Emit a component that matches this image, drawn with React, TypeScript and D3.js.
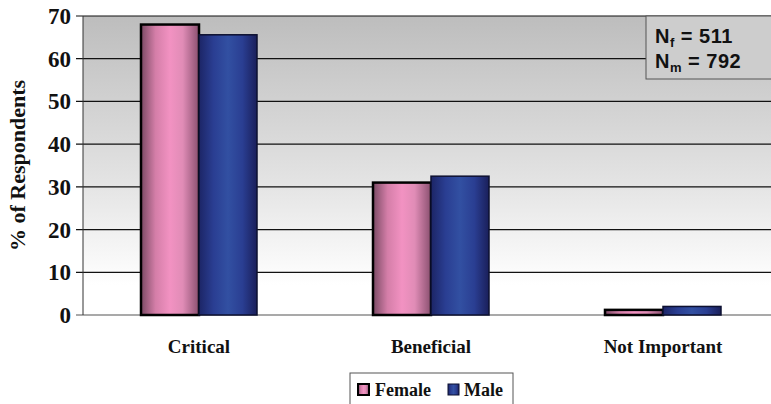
import React from "react";
import * as d3 from "d3";

const categories = ["Critical", "Beneficial", "Not Important"];
const femaleValues = [68, 31, 1.2];
const maleValues = [65.6, 32.5, 2.0];
const seriesNames = ["Female", "Male"];
const yTicks = [0, 10, 20, 30, 40, 50, 60, 70];

const W = 771;
const H = 404;
const margin = { top: 16, right: -8, bottom: 89, left: 83 };

export default function App() {
  const innerW = W - margin.left - margin.right;
  const innerH = H - margin.top - margin.bottom;

  const x0 = d3.scaleBand<string>().domain(categories).range([0, innerW]).paddingInner(0.5).paddingOuter(0.25);
  const x1 = d3.scaleBand<string>().domain(seriesNames).range([0, x0.bandwidth()]);
  const y = d3.scaleLinear().domain([0, 70]).range([innerH, 0]);

  const serif = "'Liberation Serif', 'Times New Roman', serif";
  const sans = "'Liberation Sans', Arial, sans-serif";

  const rows = categories.map((c, i) => ({ c, vals: [femaleValues[i], maleValues[i]] }));

  return (
    <svg width={W} height={H} style={{ position: "absolute", left: 0, top: 0, background: "#fff" }}>
      <defs>
        <linearGradient id="bg" x1="0" y1="0" x2="0" y2="1">
          <stop offset="0" stopColor="#bdbdbd" />
          <stop offset="0.55" stopColor="#e3e3e3" />
          <stop offset="0.9" stopColor="#ffffff" />
          <stop offset="1" stopColor="#ffffff" />
        </linearGradient>
        <linearGradient id="pink" x1="0" y1="0" x2="1" y2="0">
          <stop offset="0" stopColor="#7a4a64" />
          <stop offset="0.25" stopColor="#d47ea8" />
          <stop offset="0.5" stopColor="#f292c2" />
          <stop offset="0.72" stopColor="#e08cb6" />
          <stop offset="1" stopColor="#8a5070" />
        </linearGradient>
        <linearGradient id="blue" x1="0" y1="0" x2="1" y2="0">
          <stop offset="0" stopColor="#1c2566" />
          <stop offset="0.25" stopColor="#2a3e92" />
          <stop offset="0.5" stopColor="#3250a2" />
          <stop offset="0.75" stopColor="#2a3e92" />
          <stop offset="1" stopColor="#1a1f5a" />
        </linearGradient>
      </defs>
      <g transform={`translate(${margin.left},${margin.top})`}>
        <rect x={0} y={0} width={innerW} height={innerH} fill="url(#bg)" />
        {yTicks.map((t) => (
          <g key={t}>
            <line x1={-7} x2={innerW} y1={y(t)} y2={y(t)} stroke={t === 0 ? "#555" : "#111"} strokeWidth={1.2} />
            <text
              x={-12}
              y={y(t)}
              dy="0.35em"
              textAnchor="end"
              fontFamily={serif}
              fontWeight="bold"
              fontSize={23}
              fill="#111"
            >
              {t}
            </text>
          </g>
        ))}
        <line x1={0} x2={0} y1={0} y2={innerH} stroke="#333" strokeWidth={1} />
        {rows.map((r) => (
          <g key={r.c} transform={`translate(${x0(r.c)},0)`}>
            {r.vals.map((v, j) => (
              <rect
                key={j}
                x={x1(seriesNames[j])!}
                y={y(v)}
                width={x1.bandwidth()}
                height={innerH - y(v)}
                fill={j === 0 ? "url(#pink)" : "url(#blue)"}
                stroke={j === 0 ? "#000" : "#0d1030"}
                strokeWidth={j === 0 ? 2.5 : 1.5}
              />
            ))}
            <text x={x0.bandwidth() / 2} y={innerH + 38} textAnchor="middle" fontFamily={serif} fontWeight="bold" fontSize={19} fill="#111">
              {r.c}
            </text>
          </g>
        ))}
      </g>
      <text
        transform={`translate(25,${margin.top + innerH / 2}) rotate(-90)`}
        textAnchor="middle"
        fontFamily={serif}
        fontWeight="bold"
        fontSize={22}
        fill="#111"
      >
        % of Respondents
      </text>
      {/* sample size box */}
      <g>
        <rect x={646} y={16} width={130} height={63} fill="#cdcdcd" stroke="#555" strokeWidth={1} />
        <text x={655} y={43} fontFamily={sans} fontWeight="bold" fontSize={20} fill="#111" letterSpacing={0.5}>
          N<tspan fontSize={13} dy={4}>f</tspan>
          <tspan dy={-4}> = 511</tspan>
        </text>
        <text x={655} y={68} fontFamily={sans} fontWeight="bold" fontSize={20} fill="#111" letterSpacing={0.5}>
          N<tspan fontSize={13} dy={4}>m</tspan>
          <tspan dy={-4}> = 792</tspan>
        </text>
      </g>
      {/* legend */}
      <g>
        <rect x={350} y={373} width={163} height={40} fill="#fff" stroke="#555" strokeWidth={1} />
        <rect x={358} y={384} width={11} height={11} fill="url(#pink)" stroke="#000" strokeWidth={2} />
        <text x={375} y={396} fontFamily={serif} fontWeight="bold" fontSize={18} fill="#111">
          {seriesNames[0]}
        </text>
        <rect x={448} y={384} width={11} height={11} fill="url(#blue)" stroke="#0d1030" strokeWidth={1} />
        <text x={464} y={396} fontFamily={serif} fontWeight="bold" fontSize={18} fill="#111">
          {seriesNames[1]}
        </text>
      </g>
    </svg>
  );
}
